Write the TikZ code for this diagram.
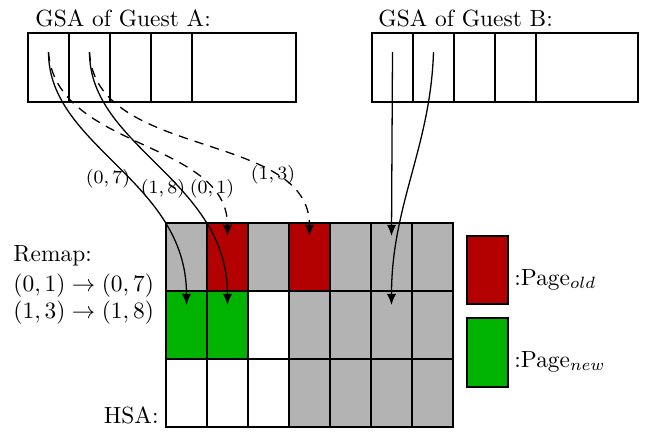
\documentclass[tikz,border=0pt]{standalone}
\usetikzlibrary{arrows.meta}
\definecolor{oldred}{RGB}{179,0,0}
\definecolor{newgreen}{RGB}{0,179,0}
\definecolor{usedgray}{RGB}{179,179,179}
\begin{document}
\begin{tikzpicture}[x=0.4274pt,y=-0.4274pt,
  box/.style={draw=black,line width=0.6pt},
  conn/.style={line width=0.55pt,-{Latex[length=4.8pt,width=4pt]}},
  remapdash/.style={conn,dash pattern=on 4pt off 3pt},
  lbl/.style={inner sep=0pt,anchor=base west},
  edgelbl/.style={font=\footnotesize,inner sep=0pt}]
\useasboundingbox (0,0) rectangle (646,432);

% GSA of guest A
\draw[box] (28,33) rectangle (296,102);
\foreach \x in {69,110,151,192} \draw[box] (\x,33) -- (\x,102);
% GSA of guest B
\draw[box] (372,33) rectangle (638,102);
\foreach \x in {413,454,495,536} \draw[box] (\x,33) -- (\x,102);

% HSA grid
\foreach \c/\r/\f in {0/0/usedgray,1/0/oldred,2/0/usedgray,3/0/oldred,4/0/usedgray,5/0/usedgray,6/0/usedgray,
  0/1/newgreen,1/1/newgreen,2/1/white,3/1/usedgray,4/1/usedgray,5/1/usedgray,6/1/usedgray,
  0/2/white,1/2/white,2/2/white,3/2/usedgray,4/2/usedgray,5/2/usedgray,6/2/usedgray}
  \filldraw[box,fill=\f] ({166+41*\c},{223+68*\r}) rectangle ++(41,68);

% legend
\filldraw[box,fill=oldred] (467,236) rectangle (508,304);
\filldraw[box,fill=newgreen] (467,318) rectangle (508,387);

% texts
\node[lbl] (gsaA) at (35,26) {GSA of Guest A:};
\node[lbl] (gsaB) at (378,26) {GSA of Guest B:};
\node[lbl] (remapT) at (13,261) {Remap:};
\node[lbl] (remap1) at (13,291) {$(0,1)\rightarrow(0,7)$};
\node[lbl] (remap2) at (13,318) {$(1,3)\rightarrow(1,8)$};
\node[inner sep=0pt,anchor=base east] (hsa) at (159,423) {HSA:};
\node[lbl] (pold) at (514,285) {:Page$_{old}$};
\node[lbl] (pnew) at (514,367) {:Page$_{new}$};

% connector ends
\coordinate (a0) at (48.5,52);
\coordinate (a1) at (89.5,52);
\coordinate (b0) at (392.5,52);
\coordinate (b1) at (433.5,52);
\coordinate (h01) at (227.5,236);
\coordinate (h03) at (309.5,236);
\coordinate (h05) at (391.5,236);
\coordinate (h10) at (186.5,305);
\coordinate (h11) at (227.5,305);
\coordinate (h15) at (391.5,305);

% connectors
\draw[conn] (a0) .. controls +(0,95) and +(0,-125) .. (h10);
\draw[conn] (a1) .. controls +(0,95) and +(0,-125) .. (h11);
\draw[remapdash] (a0) .. controls +(7,98) and +(0,-96) .. (h01);
\draw[remapdash] (a1) .. controls +(5,108) and +(0,-106) .. (h03);
\draw[conn] (b0) -- (h05);
\draw[conn] (b1) .. controls +(-3,95) and +(0,-100) .. (h15);

% connector labels
\node[edgelbl] (l07) at (108,179) {$(0,7)$};
\node[edgelbl] (l18) at (163,189) {$(1,8)$};
\node[edgelbl] (l01) at (212,189) {$(0,1)$};
\node[edgelbl] (l13) at (273,175) {$(1,3)$};
\end{tikzpicture}
\end{document}
